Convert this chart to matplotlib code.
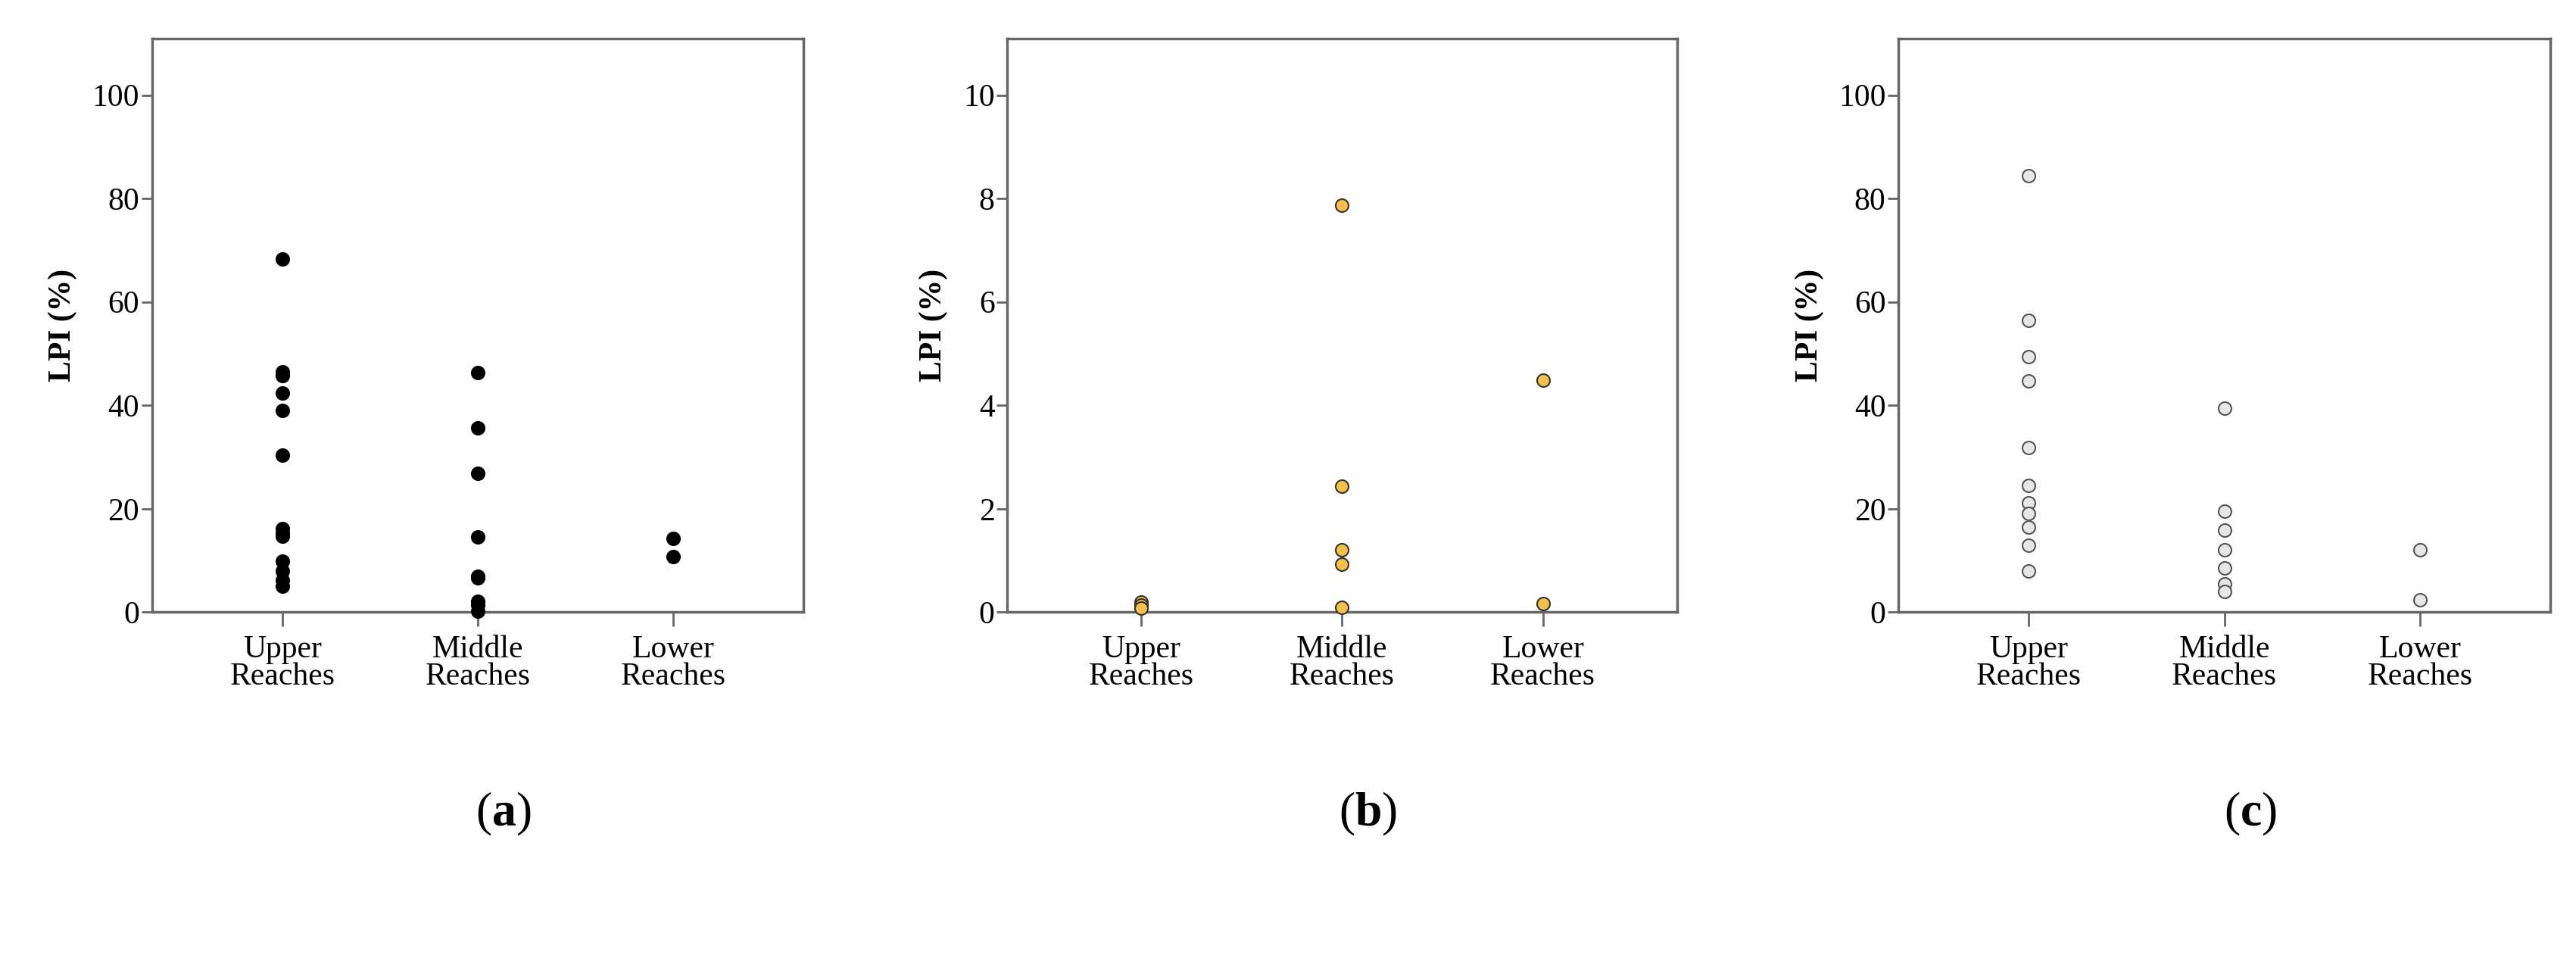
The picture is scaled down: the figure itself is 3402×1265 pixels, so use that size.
import matplotlib
matplotlib.use("Agg")
import matplotlib.pyplot as plt

categories = ["Upper\nReaches", "Middle\nReaches", "Lower\nReaches"]

a_upper = [68.3, 46.5, 45.8, 42.4, 39.0, 30.3, 16.1, 15.3, 14.7, 9.9, 8.0, 6.2, 5.0]
a_middle = [46.4, 35.7, 26.9, 14.5, 7.0, 6.6, 2.1, 1.3, 0.2]
a_lower = [14.3, 10.8]

b_upper = [0.2, 0.13, 0.08]
b_middle = [7.87, 2.44, 1.21, 0.93, 0.1]
b_lower = [4.49, 0.17]

c_upper = [84.4, 56.4, 49.4, 44.8, 31.9, 24.5, 21.2, 19.1, 16.4, 13.0, 8.0]
c_middle = [39.5, 19.6, 15.8, 12.1, 8.6, 5.4, 4.0]
c_lower = [12.1, 2.4]

yticks_a = [0, 20, 40, 60, 80, 100]
yticks_b = [0, 2, 4, 6, 8, 10]
panel_labels = ["a", "b", "c"]

plt.rcParams['font.family'] = ['Liberation Serif', 'DejaVu Serif']
plt.rcParams['mathtext.fontset'] = 'custom'
plt.rcParams['mathtext.bf'] = 'Liberation Serif:bold'
plt.rcParams['mathtext.rm'] = 'Liberation Serif'
fig = plt.figure(figsize=(34.02, 12.65), dpi=100)

panels = [
    ([a_upper, a_middle, a_lower], yticks_a, 111, dict(facecolor='black', edgecolor='black'), 0.059, 0.312),
    ([b_upper, b_middle, b_lower], yticks_b, 11.1, dict(facecolor='#F5C04A', edgecolor='#333333'), 0.391, 0.651),
    ([c_upper, c_middle, c_lower], yticks_a, 111, dict(facecolor='#E6E6E6', edgecolor='#555555'), 0.737, 0.990),
]
for i, (series, yt, ytop, style, l, r) in enumerate(panels):
    ax = fig.add_axes([l, 0.361, r - l, 0.599])
    for j, vals in enumerate(series):
        ax.scatter([j + 1] * len(vals), vals, s=150, linewidths=1.5, zorder=3, clip_on=False, **style)
    ax.set_xlim(0.333, 3.667)
    ax.set_ylim(0, ytop)
    ax.set_xticks([1, 2, 3])
    ax.set_xticklabels(categories, fontsize=30, linespacing=0.9)
    ax.set_yticks(yt)
    ax.tick_params(axis='y', labelsize=30, length=10, width=2, color='#666666', pad=2)
    ax.tick_params(axis='x', length=14, width=2, color='#666666', pad=8)
    for sp in ax.spines.values():
        sp.set_color('#666666')
        sp.set_linewidth(2.5)
    ax.set_ylabel("LPI (%)", fontsize=30, fontweight='bold', labelpad=14)
    fig.text((l + r) / 2 + 0.01, 0.15, r"$\mathrm{(}\mathbf{" + panel_labels[i] + r"}\mathrm{)}$",
             ha='center', va='center', fontsize=46)

fig.savefig("out.png", dpi=100, facecolor='white')
